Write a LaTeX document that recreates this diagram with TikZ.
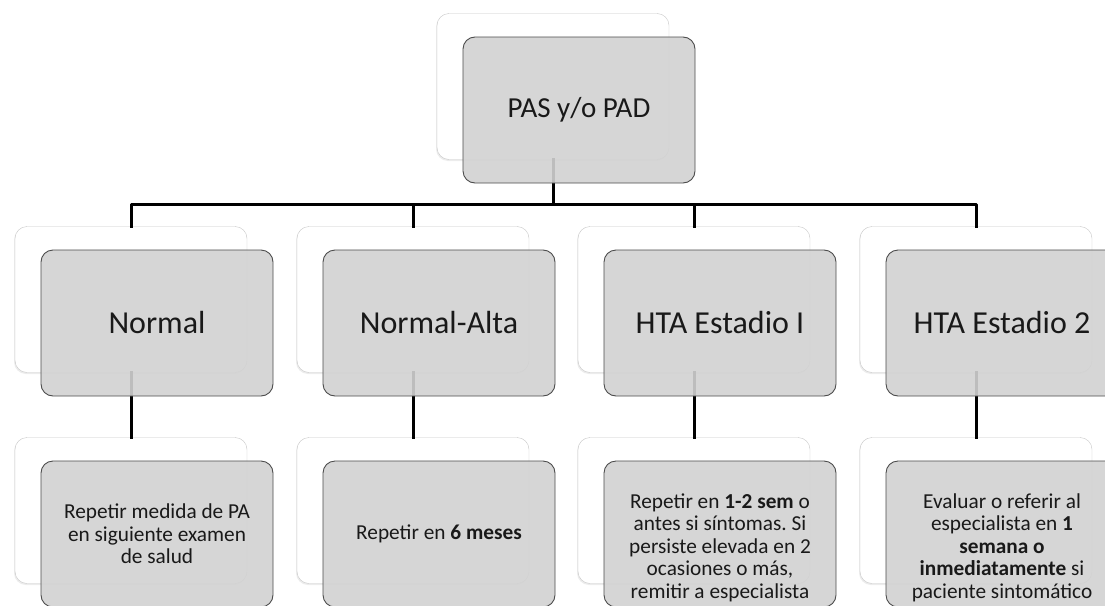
\documentclass[tikz,border=0pt]{standalone}
\usepackage{fontspec}
\setmainfont{Carlito}
\frenchspacing
\usetikzlibrary{positioning,shadows}
\tikzset{
  backbox/.style={draw=gray!45, fill=white, rounded corners=12pt, minimum width=232pt,
    minimum height=146pt, inner sep=0pt,
    drop shadow={opacity=0.15, shadow xshift=-1pt, shadow yshift=-1.5pt}},
  frontbox/.style={draw=black!70, line width=0.9pt, fill=gray!35, fill opacity=0.9,
    text opacity=1, rounded corners=12pt, minimum width=232pt, minimum height=146pt,
    align=center, inner sep=2pt, text=black!90},
  link/.style={line width=3pt, line cap=rect},
  rootfont/.style={font=\fontsize{29}{34}\selectfont},
  catfont/.style={font=\fontsize{32}{38}\selectfont},
  actfont/.style={font=\fontsize{21.3}{22.6}\selectfont},
}
\begin{document}
\begin{tikzpicture}[x=1pt, y=1pt, line join=round]
\useasboundingbox (0,0) rectangle (1105,-605);
\clip (0,0) rectangle (1105,-605);
\def\dx{26} \def\dy{-23.5}
% back boxes
\node[backbox] (rootb) at (553,-86.5) {};
\foreach \i/\x in {1/131,2/413,3/694,4/976} {
  \node[backbox] (catb\i) at (\x,-299.5) {};
  \node[backbox] (actb\i) at (\x,-510.5) {};
}
% connectors
\draw[link] (rootb.south) -- ++(0,-45) coordinate (bus);
\foreach \i in {1,...,4} {
  \draw[link] (bus) -| (catb\i.north);
  \draw[link] (catb\i.south) -- (actb\i.north);
}
% front boxes
\node[frontbox, rootfont] (root) at ([shift={(\dx,\dy)}]rootb.center) {PAS y/o PAD};
\foreach \i/\t in {1/Normal, 2/Normal-Alta, 3/HTA Estadio I, 4/HTA Estadio 2}
  \node[frontbox, catfont] (cat\i) at ([shift={(\dx,\dy)}]catb\i.center) {\t};
\node[frontbox, actfont] (act1) at ([shift={(\dx,\dy)}]actb1.center)
  {Repetir medida de PA\\en siguiente examen\\de salud};
\node[frontbox, actfont] (act2) at ([shift={(\dx,\dy)}]actb2.center)
  {Repetir en \textbf{6 meses}};
\node[frontbox, actfont] (act3) at ([shift={(\dx,\dy)}]actb3.center)
  {\rule{0pt}{42pt}Repetir en \textbf{1-2 sem} o\\antes si síntomas. Si\\persiste elevada en 2\\ocasiones o más,\\remitir a especialista};
\node[frontbox, actfont] (act4) at ([shift={(\dx,\dy)}]actb4.center)
  {\rule{0pt}{42pt}Evaluar o referir al\\especialista en \textbf{1}\\\textbf{semana o}\\\textbf{inmediatamente} si\\paciente sintomático};
\end{tikzpicture}
\end{document}
